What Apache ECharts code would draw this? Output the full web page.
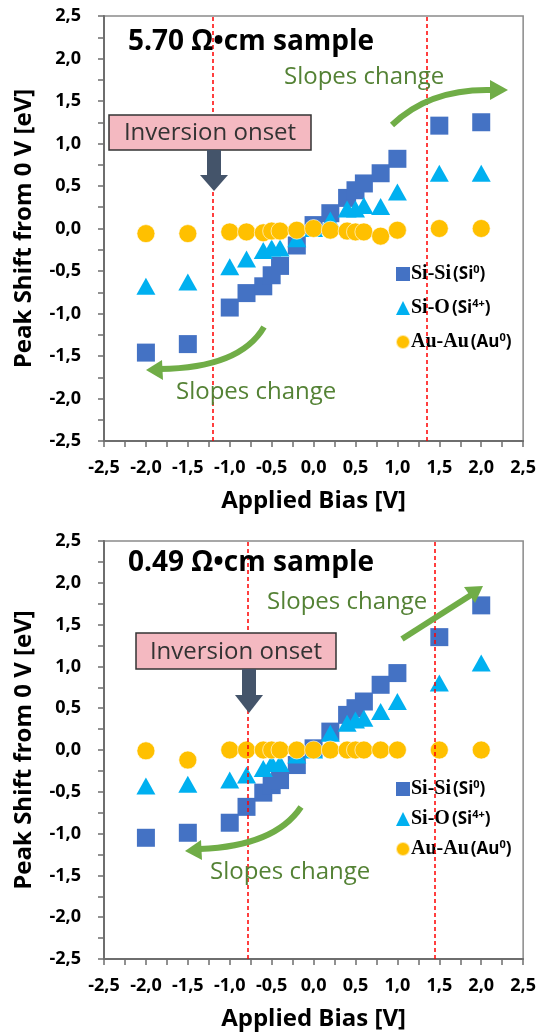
<!DOCTYPE html>
<html>
<head>
<meta charset="utf-8">
<script src="https://cdn.jsdelivr.net/npm/echarts@6/dist/echarts.min.js"></script>
<style>
  html, body { margin: 0; padding: 0; background: #fff; }
  #chart { width: 539px; height: 1036px; }
</style>
</head>
<body>
<div id="chart"></div>
<script>
// applied bias points (V)
var bias = [-2, -1.5, -1, -0.8, -0.6, -0.5, -0.4, -0.2, 0, 0.2, 0.4, 0.5, 0.6, 0.8, 1, 1.5, 2];

// 5.70 Ohm.cm sample
var siSiTop = [-1.46, -1.36, -0.93, -0.76, -0.68, -0.55, -0.44, -0.2, 0.04, 0.18, 0.36, 0.45, 0.53, 0.65, 0.82, 1.21, 1.25];
var siOTop = [-0.68, -0.63, -0.45, -0.36, -0.26, -0.23, -0.23, -0.12, 0.0, 0.1, 0.23, 0.23, 0.27, 0.26, 0.43, 0.65, 0.65];
var auTop = [-0.06, -0.06, -0.04, -0.04, -0.05, -0.03, -0.03, -0.02, 0.0, -0.02, -0.03, -0.04, -0.04, -0.09, -0.02, 0.0, 0.0];
var onsetTop = [-1.2, 1.35];

// 0.49 Ohm.cm sample
var siSiBot = [-1.05, -0.99, -0.87, -0.68, -0.51, -0.42, -0.36, -0.18, 0.02, 0.22, 0.42, 0.5, 0.58, 0.78, 0.92, 1.35, 1.73];
var siOBot = [-0.43, -0.41, -0.36, -0.3, -0.22, -0.16, -0.16, -0.06, 0.0, 0.2, 0.32, 0.36, 0.38, 0.46, 0.58, 0.8, 1.04];
var auBot = [-0.01, -0.12, 0, 0, 0, 0, 0, 0, 0, 0, 0, 0, 0, 0, 0, 0, 0];
var onsetBot = [-0.78, 1.45];

var seriesNames = ['Si-Si', 'Si-O', 'Au-Au'];
var stateNames = ['(Si', '(Si', '(Au'];
var stateSup = ['0', '4+', '0'];
var titles = ['5.70 Ω•cm sample', '0.49 Ω•cm sample'];

var FONT = '"Open Sans", "DejaVu Sans", sans-serif';
var GREEN = '#70AD47';
var DARK = '#44546A';

var chart = echarts.init(document.getElementById('chart'));

function pts(ys) {
    return bias.map(function (x, i) { return [x, ys[i]]; });
}
function fmt(v) {
    return v.toFixed(1).replace('.', ',');
}

function xAx(gi) {
    return {
        gridIndex: gi, type: 'value', min: -2.5, max: 2.5, interval: 0.5,
        name: 'Applied Bias [V]', nameLocation: 'middle', nameGap: 48,
        nameTextStyle: { fontFamily: FONT, fontWeight: 'bold', fontSize: 24, color: '#000' },
        axisLine: { onZero: false, lineStyle: { color: '#6e6e6e', width: 2 } },
        axisTick: { show: true, length: 6, lineStyle: { color: '#6e6e6e', width: 1.5 } },
        minorTick: { show: true, splitNumber: 2, length: 6, lineStyle: { color: '#6e6e6e', width: 1.5 } },
        axisLabel: { formatter: fmt, margin: 18, fontFamily: FONT, fontWeight: 'bold', fontSize: 18, color: '#000' },
        splitLine: { show: false }
    };
}
function yAx(gi) {
    return {
        gridIndex: gi, type: 'value', min: -2.5, max: 2.5, interval: 0.5,
        name: 'Peak Shift from 0 V [eV]', nameLocation: 'middle', nameGap: 68,
        nameTextStyle: { fontFamily: FONT, fontWeight: 'bold', fontSize: 24, color: '#000' },
        axisLine: { onZero: false, lineStyle: { color: '#6e6e6e', width: 2 } },
        axisTick: { show: true, length: 6, lineStyle: { color: '#6e6e6e', width: 1.5 } },
        minorTick: { show: true, splitNumber: 2, length: 6, lineStyle: { color: '#6e6e6e', width: 1.5 } },
        axisLabel: { formatter: fmt, margin: 23, fontFamily: FONT, fontWeight: 'bold', fontSize: 18, color: '#000' },
        splitLine: { show: false }
    };
}

function mkSeries(gi, siSi, siO, au, onset) {
    return [
        {
            name: seriesNames[0], type: 'scatter', xAxisIndex: gi, yAxisIndex: gi,
            symbol: 'rect', symbolSize: 18, itemStyle: { color: '#4472C4', opacity: 1 },
            data: pts(siSi),
            markLine: {
                silent: true, symbol: 'none', label: { show: false },
                lineStyle: { type: [4, 3], color: '#FF0000', width: 1.5 },
                data: onset.map(function (v) { return { xAxis: v }; })
            }
        },
        {
            name: seriesNames[1], type: 'scatter', xAxisIndex: gi, yAxisIndex: gi,
            symbol: 'triangle', symbolSize: [19, 17], itemStyle: { color: '#00B0F0', opacity: 1 },
            data: pts(siO)
        },
        {
            name: seriesNames[2], type: 'scatter', xAxisIndex: gi, yAxisIndex: gi,
            symbol: 'circle', symbolSize: 18,
            itemStyle: { color: '#FFC000', opacity: 1, borderColor: 'rgba(255,255,255,0.6)', borderWidth: 1 },
            data: pts(au)
        }
    ];
}

function mkLegend(top, gap) {
    return {
        left: 390, top: top, orient: 'vertical', itemGap: gap,
        itemWidth: 14, itemHeight: 14, selectedMode: false,
        data: seriesNames,
        formatter: function (name) {
            var i = seriesNames.indexOf(name);
            return '{a|' + name + '}{b|' + stateNames[i] + '}{s|' + stateSup[i] + '}{b|)}';
        },
        textStyle: {
            padding: [0, 0, 0, -4],
            rich: {
                a: { fontFamily: '"Liberation Serif", serif', fontWeight: 'bold', fontSize: 20, color: '#000', padding: [0, 2, 0, 0] },
                b: { fontFamily: FONT, fontWeight: 'bold', fontSize: 17, color: '#000' },
                s: { fontFamily: FONT, fontWeight: 'bold', fontSize: 11, color: '#000', verticalAlign: 'top' }
            }
        }
    };
}

function txt(x, y, s, size, color, bold) {
    return {
        type: 'text', x: x, y: y, z: 10,
        style: { text: s, fontFamily: FONT, fontSize: size, fontWeight: bold ? 'bold' : 'normal', fill: color, textVerticalAlign: 'middle' }
    };
}
function curve(x1, y1, cx, cy, x2, y2) {
    return {
        type: 'bezierCurve', z: 10,
        shape: { x1: x1, y1: y1, cpx1: cx, cpy1: cy, x2: x2, y2: y2 },
        style: { stroke: GREEN, lineWidth: 6, fill: null }
    };
}
function head(points, color) {
    return { type: 'polygon', z: 10, shape: { points: points }, style: { fill: color } };
}
function onsetBox(x, y, w, h, ax, ay1, ay2) {
    return [
        { type: 'rect', z: 10, shape: { x: x, y: y, width: w, height: h },
          style: { fill: '#F4B9C1', stroke: '#333', lineWidth: 1.5 } },
        { type: 'text', z: 11, x: x + w / 2, y: y + h / 2 + 1,
          style: { text: 'Inversion onset', fontFamily: FONT, fontSize: 24, fill: '#333', textAlign: 'center', textVerticalAlign: 'middle' } },
        { type: 'rect', z: 10, shape: { x: ax - 7, y: y + h, width: 14, height: ay1 - (y + h) }, style: { fill: DARK } },
        head([[ax - 14, ay1], [ax + 14, ay1], [ax, ay2]], DARK)
    ];
}

var graphics = [
    txt(128, 42, titles[0], 28, '#000', true),
    txt(284, 77, 'Slopes change', 24, '#548235', false),
    txt(176, 392, 'Slopes change', 24, '#548235', false),
    curve(392, 125, 430, 88, 493, 90),
    head([[490, 80], [508, 90], [490, 100]], GREEN),
    curve(264, 327, 240, 368, 160, 369),
    head([[162, 360], [146, 370], [163, 380]], GREEN),

    txt(128, 563, titles[1], 28, '#000', true),
    txt(267, 602, 'Slopes change', 24, '#548235', false),
    { type: 'line', z: 10, shape: { x1: 402, y1: 639, x2: 471, y2: 595 }, style: { stroke: GREEN, lineWidth: 6 } },
    head([[464, 587], [483, 586], [475, 603]], GREEN),
    txt(210, 872, 'Slopes change', 24, '#548235', false),
    curve(301, 807, 275, 846, 200, 849),
    head([[201, 840], [185, 851], [202, 860]], GREEN)
].concat(onsetBox(109, 115, 202, 35, 214, 175, 191))
 .concat(onsetBox(136, 633, 200, 36, 249, 695, 713));

var option = {
    backgroundColor: '#fff',
    animation: false,
    grid: [
        { left: 104, top: 16, width: 423, height: 425, show: true, borderColor: '#8a8a8a', borderWidth: 1.5 },
        { left: 104, top: 541, width: 423, height: 418, show: true, borderColor: '#8a8a8a', borderWidth: 1.5 }
    ],
    xAxis: [xAx(0), xAx(1)],
    yAxis: [yAx(0), yAx(1)],
    legend: [mkLegend(259, 14), mkLegend(774, 10)],
    series: mkSeries(0, siSiTop, siOTop, auTop, onsetTop).concat(mkSeries(1, siSiBot, siOBot, auBot, onsetBot)),
    graphic: graphics
};
chart.setOption(option);
</script>
</body>
</html>
